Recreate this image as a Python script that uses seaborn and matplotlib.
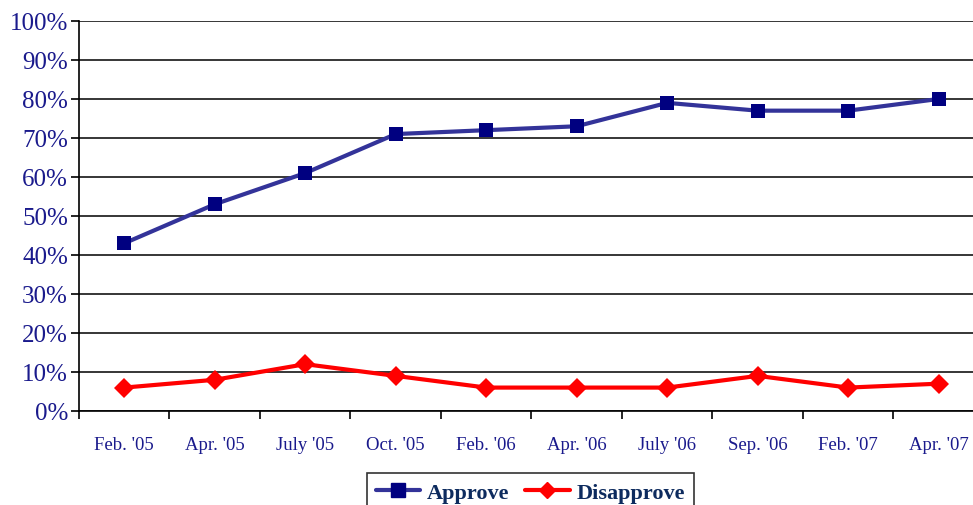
import pandas as pd
import matplotlib.pyplot as plt
import seaborn as sns
import numpy as np
from matplotlib.lines import Line2D

months = ["Feb. '05", "Apr. '05", "July '05", "Oct. '05", "Feb. '06",
          "Apr. '06", "July '06", "Sep. '06", "Feb. '07", "Apr. '07"]
approve = [43, 53, 61, 71, 72, 73, 79, 77, 77, 80]
disapprove = [6, 8, 12, 9, 6, 6, 6, 9, 6, 7]

df = pd.DataFrame({'month': months * 2,
                   'pct': approve + disapprove,
                   'series': ['Approve'] * len(months) + ['Disapprove'] * len(months)})

sns.set_style('white')
plt.rcParams['font.family'] = ['Liberation Serif', 'DejaVu Serif']

navy = '#1a1a8c'
fig = plt.figure(figsize=(9.73, 5.06), dpi=100)
ax = fig.add_axes([0.0812, 0.1858, 0.930, 0.7708])

sns.lineplot(data=df, x='month', y='pct', hue='series', style='series',
             markers=['s', 'D'], dashes=False, sort=False,
             palette={'Approve': '#333399', 'Disapprove': '#ff0000'},
             linewidth=3, markersize=10.5, markeredgewidth=0, ax=ax, legend=False)

mk = {'Approve': '#000080', 'Disapprove': '#ff0000'}
for ln, name in zip(ax.get_lines(), ['Approve', 'Disapprove']):
    ln.set_markerfacecolor(mk[name])
    ln.set_markeredgecolor(mk[name])
    ln.set_zorder(3)

ax.set_xlim(-0.5, len(months) - 0.5)
ax.set_ylim(0, 100)
ax.set_yticks(range(0, 101, 10))
ax.set_yticklabels([f'{v}%' for v in range(0, 101, 10)])
ax.yaxis.grid(True, color='black', linewidth=1.1)
ax.set_axisbelow(True)
ax.set_xlabel('')
ax.set_ylabel('')

ax.set_xticks(range(len(months)))
ax.set_xticklabels(months)
ax.set_xticks(np.arange(-0.5, len(months), 1), minor=True)
ax.tick_params(axis='x', which='major', length=0, pad=18, labelsize=13.5, labelcolor=navy)
ax.tick_params(axis='x', which='minor', length=6, width=1.2, color='black', direction='out')
ax.tick_params(axis='y', length=6, width=1.2, color='black', direction='out',
               labelsize=18, labelcolor=navy, pad=2)
ax.tick_params(bottom=True, left=True, which='both')

for s in ['top', 'right']:
    ax.spines[s].set_visible(False)
for s in ['left', 'bottom']:
    ax.spines[s].set_color('black')
    ax.spines[s].set_linewidth(1.2)

handles = [Line2D([], [], color='#333399', lw=3, marker='s', markersize=10,
                  markerfacecolor='#000080', markeredgecolor='#000080'),
           Line2D([], [], color='#ff0000', lw=3, marker='D', markersize=8,
                  markerfacecolor='#ff0000', markeredgecolor='#ff0000')]
leg = fig.legend(handles, ['Approve', 'Disapprove'], ncol=2, loc='upper center',
                 bbox_to_anchor=(0.545, 0.063), frameon=True, fancybox=False,
                 edgecolor='black', handlelength=2.0, handletextpad=0.3,
                 columnspacing=0.7, borderpad=0.4, borderaxespad=0,
                 prop={'weight': 'bold', 'size': 16})
leg.get_frame().set_linewidth(1.2)
for t in leg.get_texts():
    t.set_color('#0d2b5e')

fig.savefig('out.png', dpi=100)
